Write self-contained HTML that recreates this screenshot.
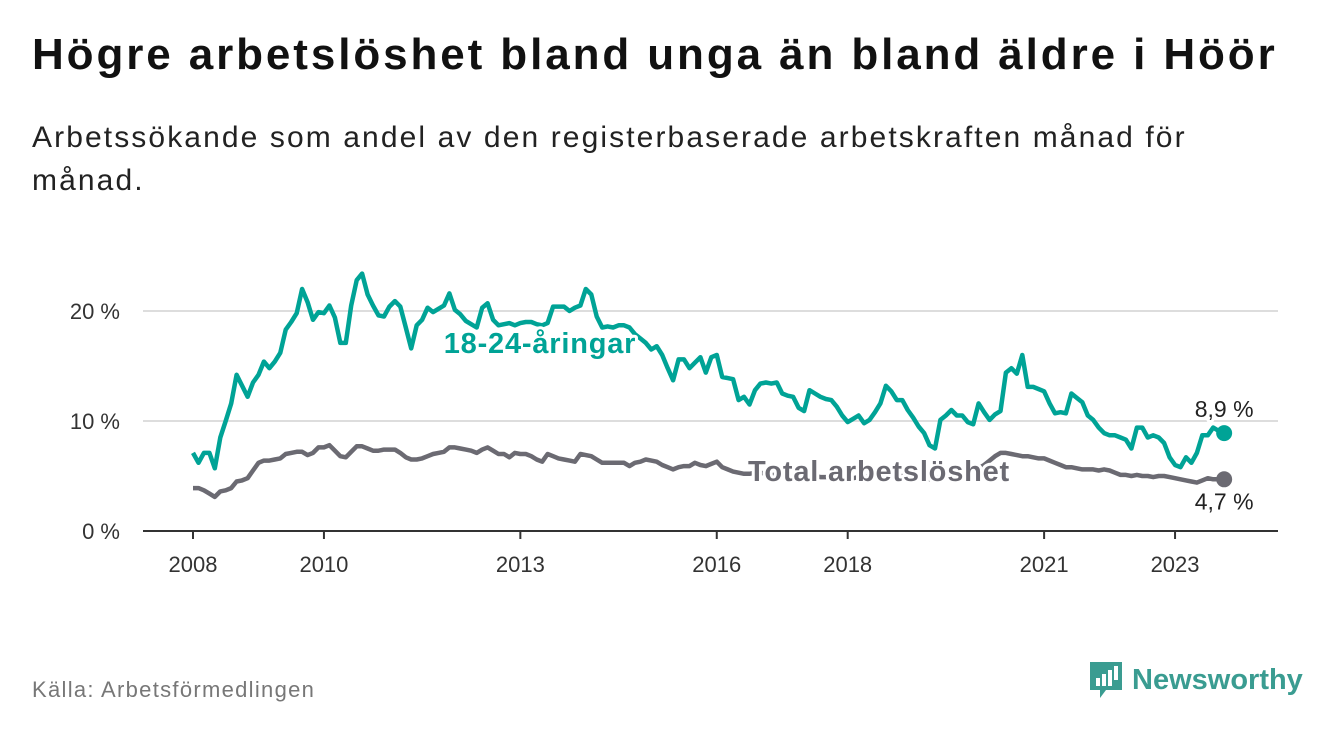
<!DOCTYPE html>
<html><head><meta charset="utf-8">
<style>
body{margin:0;width:1340px;height:734px;background:#fff;font-family:"Liberation Sans",sans-serif;overflow:hidden;position:relative}
#title{position:absolute;left:32px;top:30px;font-size:44px;font-weight:bold;color:#111;margin:0;letter-spacing:2.9px;white-space:nowrap}
#subtitle{position:absolute;left:32px;top:116px;font-size:30px;line-height:43px;color:#222;width:1200px;letter-spacing:2.1px}
#source{position:absolute;left:32px;top:677px;font-size:22px;color:#777;letter-spacing:1.3px}
#logo{position:absolute;left:1088px;top:660px;display:flex;align-items:center}
#logo span{font-size:29px;font-weight:bold;color:#3a9c91;margin-left:8px}
svg{position:absolute;left:0;top:0}
</style></head><body>
<h1 id="title">Högre arbetslöshet bland unga än bland äldre i Höör</h1>
<div id="subtitle">Arbetssökande som andel av den registerbaserade arbetskraften månad för månad.</div>
<svg id="chart" width="1340" height="734"></svg>
<div id="source">Källa: Arbetsförmedlingen</div>
<div id="logo">
<svg width="36" height="40" style="position:static"><path d="M2 2h32v28h-16l-6 8v-8h-10z" fill="#3a9c91"/><rect x="8" y="18" width="4" height="8" fill="#fff"/><rect x="14" y="14" width="4" height="12" fill="#fff"/><rect x="20" y="10" width="4" height="16" fill="#fff"/><rect x="26" y="6" width="4" height="14" fill="#fff"/></svg>
<span>Newsworthy</span></div>
<script>
const yearTicks=[2008,2010,2013,2016,2018,2021,2023];
const yTicks=[0,10,20];
const youth=[7.1,6.2,7.1,7.1,5.7,8.5,10,11.6,14.2,13.2,12.2,13.5,14.2,15.4,14.8,15.4,16.2,18.3,19.0,19.8,22,20.8,19.2,19.9,19.8,20.5,19.4,17.1,17.1,20.5,22.8,23.4,21.5,20.5,19.6,19.5,20.4,20.9,20.4,18.5,16.6,18.7,19.2,20.3,19.9,20.2,20.5,21.6,20.1,19.7,19.1,18.8,18.5,20.3,20.7,19.2,18.7,18.8,18.9,18.7,18.9,19.0,19.0,18.8,18.7,18.9,20.4,20.4,20.4,20.0,20.3,20.5,22,21.5,19.5,18.5,18.6,18.5,18.7,18.7,18.5,17.9,17.5,17.1,16.5,16.8,16.0,14.8,13.7,15.6,15.6,14.8,15.3,15.8,14.4,15.8,16,14,13.9,13.8,11.9,12.2,11.5,12.8,13.4,13.5,13.4,13.5,12.5,12.3,12.2,11.2,10.9,12.8,12.5,12.2,12.0,11.9,11.3,10.5,9.9,10.2,10.5,9.8,10.1,10.8,11.6,13.2,12.7,11.9,11.9,11.0,10.3,9.5,8.9,7.8,7.5,10.1,10.5,11.0,10.5,10.5,9.9,9.7,11.6,10.8,10.1,10.6,10.9,14.4,14.8,14.3,16,13.1,13.1,12.9,12.7,11.6,10.7,10.8,10.7,12.5,12.1,11.7,10.5,10.1,9.4,8.9,8.7,8.7,8.5,8.3,7.5,9.4,9.4,8.5,8.7,8.5,8.0,6.7,6.0,5.8,6.7,6.2,7.1,8.7,8.7,9.4,9.1,8.9];
const total=[3.9,3.9,3.7,3.4,3.1,3.6,3.7,3.9,4.5,4.6,4.8,5.5,6.2,6.4,6.4,6.5,6.6,7.0,7.1,7.2,7.2,6.9,7.1,7.6,7.6,7.8,7.3,6.8,6.7,7.2,7.7,7.7,7.5,7.3,7.3,7.4,7.4,7.4,7.1,6.7,6.5,6.5,6.6,6.8,7.0,7.1,7.2,7.6,7.6,7.5,7.4,7.3,7.1,7.4,7.6,7.3,7.0,7.0,6.7,7.1,7.0,7.0,6.8,6.5,6.3,7.0,6.8,6.6,6.5,6.4,6.3,7.0,6.9,6.8,6.5,6.2,6.2,6.2,6.2,6.2,5.9,6.2,6.3,6.5,6.4,6.3,6.0,5.8,5.6,5.8,5.9,5.9,6.2,6.0,5.9,6.1,6.3,5.8,5.6,5.4,5.3,5.2,5.2,5.3,5.3,5.2,5.1,5.1,5.0,5.0,5.0,4.9,4.9,5.0,5.0,4.9,4.9,4.8,4.8,4.8,4.7,4.8,4.9,4.9,5.0,5.0,5.1,5.1,5.1,5.0,5.0,4.9,4.9,4.8,4.8,4.7,4.8,4.9,5.0,5.1,5.1,5.2,5.2,5.4,5.7,6.0,6.4,6.8,7.1,7.1,7.0,6.9,6.8,6.8,6.7,6.6,6.6,6.4,6.2,6.0,5.8,5.8,5.7,5.6,5.6,5.6,5.5,5.6,5.5,5.3,5.1,5.1,5.0,5.1,5.0,5.0,4.9,5.0,5.0,4.9,4.8,4.7,4.6,4.5,4.4,4.6,4.8,4.7,4.7,4.7];
const NS="http://www.w3.org/2000/svg";
const svg=document.getElementById('chart');
const x=m=>193+m*65.47/12;
const xYear=yr=>x((yr-2008)*12);
const y=v=>531-v*11;
function el(t,a,p){const e=document.createElementNS(NS,t);for(const k in a)e.setAttribute(k,a[k]);(p||svg).appendChild(e);return e;}
yTicks.forEach(t=>{
  if(t>0){const g=el('line',{x1:143,x2:1278,y1:y(t),y2:y(t),stroke:'#ddd','stroke-width':2});
  
  }
  const tx=el('text',{x:120,y:y(t)+8,'text-anchor':'end','font-size':22,fill:'#333'});
  tx.textContent=t+' %';
  
  
});
const ax=el('line',{x1:143,x2:1278,y1:531,y2:531,stroke:'#333','stroke-width':2});


yearTicks.forEach(yr=>{
  const tk=el('line',{x1:xYear(yr),x2:xYear(yr),y1:531,y2:539,stroke:'#333','stroke-width':2});
  
  
  const t=el('text',{x:xYear(yr),y:572,'text-anchor':'middle','font-size':22,fill:'#333'});
  t.textContent=yr;
  
  
});
function line(arr,col,name){
  const d=arr.map((v,i)=>(i?'L':'M')+x(i).toFixed(1)+' '+y(v).toFixed(1)).join(' ');
  const p=el('path',{d:d,fill:'none',stroke:col,'stroke-width':4.5,'stroke-linejoin':'round'});
  
  
  const n=arr.length-1;
  const c=el('circle',{cx:x(n),cy:y(arr[n]),r:8,fill:col});
  
  
}
line(total,'#6b6a72','total-line');
line(youth,'#00a396','youth-line');
function label(txt,xx,yy,col,size,bold,anchor,name,ls){
  const t=el('text',{x:xx,y:yy,'font-size':size,'font-weight':bold?'bold':'normal',fill:col,'text-anchor':anchor,stroke:'#fff','stroke-width':6,'paint-order':'stroke','stroke-linejoin':'round','letter-spacing':ls||0});
  t.textContent=txt;
  
  
}
label('18-24-åringar',540,353,'#00a396',29,true,'middle','youth-series-label',0.8);
label('Total arbetslöshet',748,481,'#6b6a72',29,true,'start','total-series-label',0.8);
const n=youth.length-1;
label(youth[n].toFixed(1).replace('.',',')+' %',x(n),y(youth[n])-16,'#222',23,false,'middle','youth-end-value');
label(total[n].toFixed(1).replace('.',',')+' %',x(n),y(total[n])+30,'#222',23,false,'middle','total-end-value');
</script>
</body></html>
